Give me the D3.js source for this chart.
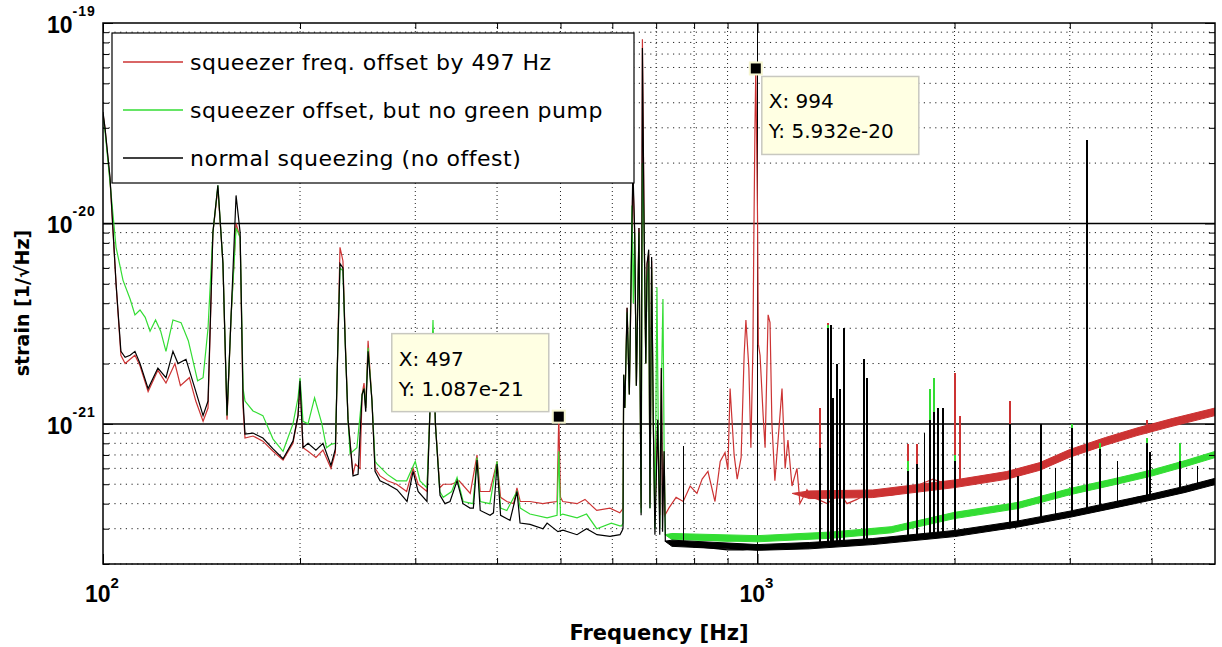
<!DOCTYPE html>
<html>
<head>
<meta charset="utf-8">
<script src="https://cdn.jsdelivr.net/npm/d3@7"></script>
<style>
  body { margin: 0; background: #fff; }
  svg { display: block; }
</style>
</head>
<body>
<div id="chart"></div>
<script>
// ---- data: [frequency Hz, strain 1/sqrt(Hz)] ----
const seriesNames = [
  "squeezer freq. offset by 497 Hz",
  "squeezer offset, but no green pump",
  "normal squeezing (no offest)"
];
const seriesColors = ["#cc3333", "#33dd33", "#000000"];

const redTrace = [
  [100, 3.5e-20], [100.7, 3.0e-20], [102.5, 1.65e-20], [104.7, 5.0e-21], [106.5, 2.2e-21],
  [108.1, 2.0e-21], [110, 2.1e-21], [111.9, 2.2e-21], [113.9, 1.95e-21], [117.2, 1.45e-21],
  [121.3, 1.85e-21], [124.8, 1.6e-21], [128.8, 2.0e-21], [131.3, 1.55e-21], [135.5, 1.7e-21],
  [138.6, 1.3e-21], [142.2, 1.03e-21], [144.7, 1.2e-21], [147.2, 9.0e-21], [149.8, 1.5e-20],
  [152.5, 6.3e-21], [154.7, 1.05e-21], [156.9, 3.4e-21], [159.7, 1.0e-20], [162, 8.5e-21],
  [163.7, 1.2e-21], [164.8, 8.5e-22], [169.5, 8.7e-22], [175.5, 8.2e-22], [181.9, 7.3e-22],
  [188.4, 6.6e-22], [195.1, 8.0e-22], [198.6, 1.1e-21], [200, 1.6e-21], [202.1, 7.6e-22],
  [205.7, 7.3e-22], [211.5, 6.8e-22], [216.8, 7.4e-22], [223, 6.0e-22], [226.5, 7.2e-22],
  [228.5, 2.6e-21], [230.2, 7.6e-21], [232.6, 6.5e-21], [234.5, 2.6e-21], [236.8, 1.05e-21],
  [241, 5.6e-22], [243, 6.3e-22], [247, 6.0e-22], [248.8, 1.4e-21], [250.5, 1.6e-21],
  [252, 1.2e-21], [254.1, 2.6e-21], [257.6, 1.3e-21], [260.4, 6.0e-22], [265, 5.5e-22],
  [272, 5.2e-22], [281, 5.0e-22], [291, 4.6e-22], [297.7, 6.0e-22], [303, 5.0e-22],
  [312.6, 4.6e-22], [316, 1.2e-21], [319.3, 2.9e-21], [322, 1.0e-21], [327, 4.8e-22],
  [331, 5.0e-22], [341, 5.0e-22], [350, 5.2e-22], [364, 4.5e-22], [372.8, 7.0e-22],
  [377, 4.6e-22], [390, 4.6e-22], [400, 6.5e-22], [405, 4.3e-22], [414, 4.1e-22],
  [424, 4.0e-22], [429, 4.8e-22], [434, 4.1e-22], [449, 4.1e-22], [470, 4.0e-22],
  [480, 4.05e-22], [494, 4.1e-22], [497, 1.087e-21], [500, 4.3e-22], [504, 4.1e-22],
  [530, 4.0e-22], [545, 4.2e-22], [568, 3.7e-22], [595, 3.8e-22], [616, 3.6e-22],
  [620, 3.7e-22], [623, 3.8e-22], [624.5, 1.76e-21], [627, 1.2e-21], [632, 3.8e-21],
  [637, 1.4e-21], [645, 1.7e-20], [649, 9.0e-21], [653, 1.55e-21], [659, 9.5e-21],
  [664, 3.8e-22], [667, 8.3e-20], [671, 9.8e-21], [675, 2.0e-21], [678, 6.3e-21],
  [682, 7.0e-21], [685, 4.0e-22], [689, 6.5e-21], [693, 1.05e-21], [697, 3.5e-22],
  [704, 1.05e-21], [709, 3.5e-22], [713, 1.9e-21], [716, 3.5e-22], [720, 7.3e-22],
  [722, 3.5e-22], [732, 3.8e-22], [751, 4.3e-22], [770, 4.1e-22], [789, 4.9e-22],
  [808, 4.5e-22], [823, 5.3e-22], [840, 5.8e-22], [861, 4.1e-22], [877, 6.5e-22],
  [892, 7.2e-22], [901, 5.9e-22], [908, 1.5e-21], [921, 7.0e-22], [931, 5.3e-22],
  [944, 6.8e-22], [954, 2.2e-21], [960, 3.3e-21], [970, 1.9e-21], [977, 7.6e-22],
  [984, 2.4e-21], [987, 8.0e-21], [991, 3.0e-20], [994, 5.932e-20], [997, 2.5e-20],
  [1000, 1.1e-20], [1003, 2.5e-21], [1009, 2.2e-21], [1020, 1.1e-21], [1027, 7.6e-22],
  [1038, 3.5e-21], [1045, 3.2e-21], [1052, 1.0e-21], [1063, 5.2e-22], [1075, 8.3e-22],
  [1090, 1.5e-21], [1102, 6.0e-22], [1113, 8.3e-22], [1129, 4.9e-22], [1149, 6.0e-22],
  [1161, 4.0e-22], [1190, 4.7e-22], [1211, 4.3e-22], [1237, 4.2e-22], [1277, 4.0e-22],
  [1337, 4.5e-22], [1370, 4.0e-22], [1419, 4.2e-22], [1470, 4.5e-22], [1539, 4.4e-22],
  [1594, 4.4e-22], [1651, 4.5e-22], [1710, 4.7e-22], [1771, 5.0e-22], [1854, 5.3e-22],
  [1948, 5.0e-22], [2089, 5.0e-22], [2188, 5.1e-22], [2290, 5.3e-22], [2405, 5.5e-22],
  [2660, 6.1e-22], [2980, 7.1e-22], [3340, 8.2e-22], [3800, 9.1e-22], [4280, 1.02e-21],
  [4800, 1.11e-21], [5000, 1.15e-21]
];

const greenTrace = [
  [100, 3.4e-20], [100.7, 2.9e-20], [102.5, 1.6e-20], [104.7, 7.6e-21], [107.3, 5.2e-21],
  [110, 4.2e-21], [111.9, 3.5e-21], [113.9, 3.7e-21], [116, 3.4e-21], [118, 2.9e-21],
  [120.3, 3.3e-21], [122.5, 2.9e-21], [124.8, 2.3e-21], [127.9, 3.3e-21], [131.6, 3.2e-21],
  [135, 2.6e-21], [139.5, 1.64e-21], [142.2, 1.7e-21], [144.7, 3.0e-21], [147.2, 9.0e-21],
  [149.8, 1.55e-20], [152.5, 6.3e-21], [154.7, 1.1e-21], [156.9, 3.4e-21], [159.7, 9.5e-21],
  [162, 8.5e-21], [163.7, 1.5e-21], [164.8, 1.3e-21], [169.5, 1.16e-21], [175.5, 1.1e-21],
  [181.9, 8.4e-22], [188.4, 7.3e-22], [195.1, 1.0e-21], [198.6, 1.35e-21], [200, 1.7e-21],
  [202.1, 1.03e-21], [205.7, 1.0e-21], [210.5, 1.35e-21], [216, 1.0e-21], [219.5, 7.6e-22],
  [223, 7.9e-22], [226.5, 8.0e-22], [228.5, 2.5e-21], [230.2, 6.0e-21], [232.6, 5.8e-21],
  [234.5, 2.5e-21], [236.8, 1.05e-21], [238.5, 7.1e-22], [244.3, 7.6e-22], [248.8, 1.4e-21],
  [250.5, 1.5e-21], [252, 1.2e-21], [254.1, 2.4e-21], [257.6, 1.3e-21], [260.4, 6.5e-22],
  [262.4, 6.3e-22], [272, 5.6e-22], [281, 5.2e-22], [291, 5.2e-22], [300, 6.5e-22],
  [305, 5.2e-22], [312.6, 4.8e-22], [316, 1.2e-21], [319.3, 3.3e-21], [322, 1.0e-21],
  [327, 4.6e-22], [331, 4.3e-22], [341, 4.6e-22], [347.5, 5.4e-22], [355, 4.1e-22],
  [367.6, 4.0e-22], [372.8, 6.8e-22], [377, 4.1e-22], [390, 4.0e-22], [400, 6.5e-22],
  [405, 3.8e-22], [414, 3.7e-22], [429, 4.6e-22], [434, 3.8e-22], [449, 3.55e-22],
  [477, 3.4e-22], [494, 3.5e-22], [497, 7.3e-22], [500, 3.5e-22], [504, 3.55e-22],
  [530, 3.4e-22], [548, 3.55e-22], [568, 3.0e-22], [598, 3.2e-22], [616, 3.1e-22],
  [620, 3.1e-22], [623, 3.2e-22], [624.5, 1.76e-21], [627, 1.2e-21], [632, 3.6e-21],
  [637, 1.4e-21], [643, 1.23e-20], [646, 4.0e-21], [649, 9.0e-21], [653, 1.55e-21],
  [659, 9.0e-21], [664, 3.6e-22], [667, 2.0e-20], [671, 9.5e-21], [675, 2.0e-21],
  [678, 5.0e-21], [682, 6.5e-21], [685, 3.8e-22], [689, 6.0e-21], [693, 1.05e-21],
  [697, 3.0e-22], [702, 4.8e-21], [705, 1.1e-21], [709, 3.0e-22], [713, 1.5e-21],
  [717, 4.2e-21], [720, 7.3e-22], [723, 2.8e-22], [735, 2.75e-22], [760, 2.7e-22],
  [800, 2.65e-22], [900, 2.6e-22], [1000, 2.65e-22], [1200, 2.7e-22], [1337, 2.8e-22],
  [1487, 2.9e-22], [1690, 3.0e-22], [1900, 3.4e-22], [2135, 3.6e-22], [2405, 3.8e-22],
  [2700, 4.1e-22], [2980, 4.6e-22], [3340, 5.0e-22], [3800, 5.6e-22], [4280, 6.1e-22],
  [4800, 6.9e-22], [5000, 7.1e-22]
];

const blackTrace = [
  [100, 3.6e-20], [100.7, 3.0e-20], [102.5, 1.7e-20], [104.7, 5.0e-21], [106.5, 2.3e-21],
  [108.1, 2.15e-21], [110, 2.2e-21], [111.9, 2.3e-21], [113.9, 2.0e-21], [117.2, 1.5e-21],
  [121.3, 1.9e-21], [124.8, 1.7e-21], [127.9, 2.3e-21], [130.2, 2.0e-21], [133.9, 2.1e-21],
  [138.2, 1.5e-21], [142.2, 1.1e-21], [144.7, 1.3e-21], [147.2, 9.0e-21], [149.8, 1.55e-20],
  [152.5, 6.3e-21], [154.7, 1.1e-21], [156.9, 3.4e-21], [159.7, 1.38e-20], [162, 9.0e-21],
  [163.7, 1.3e-21], [164.8, 8.9e-22], [169.5, 9.0e-22], [175.5, 8.5e-22], [181.9, 7.5e-22],
  [188.4, 6.7e-22], [195.1, 8.2e-22], [198.6, 1.1e-21], [200, 1.64e-21], [202.1, 7.6e-22],
  [205.7, 8.0e-22], [211.5, 7.4e-22], [216.8, 8.0e-22], [223, 6.2e-22], [226.5, 7.5e-22],
  [228.5, 2.5e-21], [230.2, 6.3e-21], [232.6, 6.0e-21], [234.5, 2.5e-21], [236.8, 1.05e-21],
  [241, 5.5e-22], [245.3, 5.6e-22], [248.8, 1.4e-21], [250.5, 1.5e-21], [252, 1.15e-21],
  [254.1, 2.3e-21], [257.6, 1.3e-21], [260.4, 5.8e-22], [265, 5.2e-22], [272, 5.0e-22],
  [281.3, 4.7e-22], [291.4, 4.1e-22], [297.7, 5.8e-22], [303, 4.6e-22], [312.6, 4.1e-22],
  [316, 1.2e-21], [319.3, 2.7e-21], [322, 1.0e-21], [327.3, 4.4e-22], [333, 4.0e-22],
  [339, 4.1e-22], [347.5, 5.2e-22], [354.8, 4.0e-22], [363.7, 3.8e-22], [368, 3.8e-22],
  [372.8, 6.6e-22], [377, 3.7e-22], [390.3, 3.5e-22], [395, 3.6e-22], [400, 6.3e-22],
  [405, 3.5e-22], [418.7, 3.3e-22], [429.1, 4.6e-22], [433.7, 3.2e-22], [449.2, 3.15e-22],
  [470.3, 3.0e-22], [477, 3.2e-22], [495.5, 2.9e-22], [504.4, 2.95e-22], [529.9, 2.8e-22],
  [548, 3.0e-22], [568.5, 2.8e-22], [595.1, 2.75e-22], [616.4, 2.8e-22], [620, 2.9e-22],
  [623, 3.0e-22], [624.5, 1.76e-21], [627, 1.2e-21], [632, 3.8e-21], [637, 1.4e-21],
  [645, 1.9e-20], [649, 9.4e-21], [653, 1.55e-21], [659, 9.5e-21], [664, 3.5e-22],
  [667, 7.5e-20], [671, 9.8e-21], [675, 2.0e-21], [678, 6.3e-21], [682, 7.4e-21],
  [685, 3.8e-22], [689, 6.8e-21], [693, 1.05e-21], [697, 2.8e-22], [704, 1.05e-21],
  [709, 2.8e-22], [713, 1.9e-21], [716, 2.9e-22], [720, 7.3e-22], [723, 2.6e-22],
  [735, 2.55e-22], [760, 2.5e-22], [800, 2.45e-22], [850, 2.4e-22], [900, 2.35e-22],
  [950, 2.35e-22], [1000, 2.4e-22], [1100, 2.4e-22], [1200, 2.45e-22], [1400, 2.5e-22],
  [1540, 2.6e-22], [1700, 2.65e-22], [1900, 2.8e-22], [2135, 2.95e-22], [2400, 3.15e-22],
  [2700, 3.3e-22], [3000, 3.55e-22], [3340, 3.8e-22], [3800, 4.3e-22], [4280, 4.6e-22],
  [4800, 5.0e-22], [5000, 5.2e-22]
];

// width of the noisy band at high frequency: [f, low edge, high edge]
const redBand = [
  [1130, 4.5e-22, 4.5e-22], [1200, 4.24e-22, 4.63e-22], [1500, 4.29e-22, 4.68e-22],
  [2000, 4.81e-22, 5.25e-22], [2400, 5.29e-22, 5.78e-22], [2700, 5.87e-22, 6.41e-22],
  [3000, 6.82e-22, 7.45e-22], [3400, 7.83e-22, 8.55e-22], [3800, 8.74e-22, 9.54e-22],
  [4300, 9.73e-22, 1.063e-21], [5000, 1.10e-21, 1.20e-21]
];
const greenBand = [
  [722, 2.8e-22, 2.8e-22], [740, 2.65e-22, 2.84e-22], [1000, 2.58e-22, 2.77e-22],
  [1300, 2.69e-22, 2.89e-22], [1600, 2.86e-22, 3.07e-22], [2000, 3.37e-22, 3.62e-22],
  [2500, 3.78e-22, 4.06e-22], [3000, 4.43e-22, 4.76e-22], [3500, 4.96e-22, 5.32e-22],
  [4000, 5.49e-22, 5.89e-22], [4500, 6.12e-22, 6.56e-22], [5000, 6.79e-22, 7.29e-22]
];
const blackBand = [
  [722, 2.6e-22, 2.6e-22], [740, 2.45e-22, 2.63e-22], [1000, 2.34e-22, 2.50e-22],
  [1200, 2.38e-22, 2.56e-22], [1500, 2.50e-22, 2.68e-22], [2000, 2.74e-22, 2.94e-22],
  [2500, 3.06e-22, 3.28e-22], [3000, 3.42e-22, 3.67e-22], [3500, 3.80e-22, 4.08e-22],
  [4000, 4.17e-22, 4.47e-22], [4500, 4.55e-22, 4.89e-22], [5000, 4.98e-22, 5.35e-22]
];

// narrow lines: [f, base, peak]
const redSpikes = [
  [1246, 4.2e-22, 1.2e-21], [1281, 4.0e-22, 3.2e-21], [1356, 4.2e-22, 1.4e-21],
  [1698, 4.7e-22, 7.9e-22], [1753, 4.9e-22, 7.9e-22], [1835, 5.2e-22, 1.5e-21],
  [2003, 5.0e-22, 1.8e-21], [2039, 5.0e-22, 1.1e-21], [2431, 5.6e-22, 1.3e-21],
  [3187, 7.7e-22, 2.6e-20], [3936, 9.3e-22, 1.05e-21]
];
const greenSpikes = [
  [770, 2.7e-22, 7.7e-22], [1246, 2.7e-22, 7.0e-22], [1281, 2.75e-22, 3.1e-21],
  [1295, 2.75e-22, 2.7e-21], [1356, 2.8e-22, 3.0e-21], [1454, 2.85e-22, 2.1e-21],
  [1698, 3.0e-22, 6.5e-22], [1835, 3.3e-22, 1.5e-21], [1861, 3.35e-22, 1.7e-21],
  [1920, 3.4e-22, 9.0e-22], [2003, 3.45e-22, 7.0e-22], [2431, 3.8e-22, 9.0e-22],
  [2712, 4.1e-22, 8.5e-22], [3024, 4.6e-22, 1.0e-21], [3187, 4.8e-22, 4.0e-21],
  [3337, 5.0e-22, 8.0e-22], [3936, 5.7e-22, 8.5e-22], [4420, 6.3e-22, 8.0e-22]
];
const blackSpikes = [
  [770, 2.5e-22, 7.8e-22], [1246, 2.45e-22, 7.6e-22], [1281, 2.45e-22, 3.0e-21],
  [1295, 2.45e-22, 3.1e-21], [1304, 2.45e-22, 1.35e-21], [1323, 2.45e-22, 2.0e-21],
  [1337, 2.45e-22, 1.5e-21], [1356, 2.45e-22, 3.0e-21], [1454, 2.55e-22, 2.1e-21],
  [1470, 2.55e-22, 1.7e-21], [1698, 2.65e-22, 5.8e-22], [1753, 2.7e-22, 6.3e-22],
  [1800, 2.7e-22, 9.0e-22], [1835, 2.75e-22, 1.05e-21], [1861, 2.75e-22, 1.15e-21],
  [1887, 2.8e-22, 1.2e-21], [1920, 2.8e-22, 1.2e-21], [2003, 2.85e-22, 6.5e-22],
  [2431, 3.15e-22, 1.0e-21], [2500, 3.2e-22, 5.5e-22], [2712, 3.3e-22, 1.0e-21],
  [2850, 3.45e-22, 6.0e-22], [3024, 3.55e-22, 9.5e-22], [3187, 3.65e-22, 2.6e-20],
  [3337, 3.8e-22, 7.5e-22], [3550, 4.0e-22, 6.5e-22], [3936, 4.35e-22, 8.0e-22],
  [3980, 4.4e-22, 7.2e-22], [4420, 4.75e-22, 6.5e-22], [4700, 4.95e-22, 6.2e-22]
];

// data tips
const tipFreqs = [994, 497];
const tipValues = [5.932e-20, 1.087e-21];

// axis ticks
const xMajor = [100, 1000];
const xMinor = [200, 300, 400, 500, 600, 700, 800, 900, 2000, 3000, 4000];
const yMajor = [1e-19, 1e-20, 1e-21];
const yMinor = [2e-22, 3e-22, 4e-22, 5e-22, 6e-22, 7e-22, 8e-22, 9e-22,
  2e-21, 3e-21, 4e-21, 5e-21, 6e-21, 7e-21, 8e-21, 9e-21,
  2e-20, 3e-20, 4e-20, 5e-20, 6e-20, 7e-20, 8e-20, 9e-20];
const xTickLabels = [["10", "2"], ["10", "3"]];
const yTickLabels = [["10", "-19"], ["10", "-20"], ["10", "-21"]];

// ---- layout ----
const W = 1222, H = 647;
const margin = { top: 23, right: 7, bottom: 83, left: 103 };
const x = d3.scaleLog().domain([100, 5000]).range([margin.left, W - margin.right]);
const y = d3.scaleLog().domain([2e-22, 1e-19]).range([H - margin.bottom, margin.top]);

const svg = d3.select("#chart").append("svg")
  .attr("width", W)
  .attr("height", H)
  .style("font-family", "'Liberation Sans', Arial, sans-serif");

svg.append("defs").append("clipPath").attr("id", "plotclip")
  .append("rect")
  .attr("x", margin.left).attr("y", margin.top)
  .attr("width", W - margin.left - margin.right)
  .attr("height", H - margin.top - margin.bottom);

// grid
const grid = svg.append("g");
grid.selectAll(".gx").data(xMinor).enter().append("line")
  .attr("x1", d => x(d)).attr("x2", d => x(d))
  .attr("y1", y.range()[1]).attr("y2", y.range()[0])
  .attr("stroke", "#222").attr("stroke-width", 1).attr("stroke-dasharray", "1,3");
grid.selectAll(".gy").data(yMinor).enter().append("line")
  .attr("x1", x.range()[0]).attr("x2", x.range()[1])
  .attr("y1", d => y(d)).attr("y2", d => y(d))
  .attr("stroke", "#222").attr("stroke-width", 1).attr("stroke-dasharray", "1.2,4.5");
grid.selectAll(".gxm").data(xMajor.slice(1)).enter().append("line")
  .attr("x1", d => x(d)).attr("x2", d => x(d))
  .attr("y1", y.range()[1]).attr("y2", y.range()[0])
  .attr("stroke", "#000").attr("stroke-width", 1);
grid.selectAll(".gym").data(yMajor.slice(1)).enter().append("line")
  .attr("x1", x.range()[0]).attr("x2", x.range()[1])
  .attr("y1", d => y(d)).attr("y2", d => y(d))
  .attr("stroke", "#000").attr("stroke-width", 1.5);

// data
const plot = svg.append("g").attr("clip-path", "url(#plotclip)");
const line = d3.line().x(d => x(d[0])).y(d => y(d[1]));
const band = d3.area().x(d => x(d[0])).y0(d => y(d[1])).y1(d => y(d[2]));

const series = [
  { trace: redTrace, band: redBand, spikes: redSpikes },
  { trace: greenTrace, band: greenBand, spikes: greenSpikes },
  { trace: blackTrace, band: blackBand, spikes: blackSpikes }
];

series.forEach((s, i) => {
  const c = seriesColors[i];
  plot.append("path").datum(s.band)
    .attr("d", band).attr("fill", c).attr("stroke", c).attr("stroke-width", 1);
  plot.append("path").datum(s.trace)
    .attr("d", line).attr("fill", "none").attr("stroke", c).attr("stroke-width", 1.2);
  plot.selectAll(null).data(s.spikes).enter().append("line")
    .attr("x1", d => x(d[0])).attr("x2", d => x(d[0]))
    .attr("y1", d => y(d[1])).attr("y2", d => y(d[2]))
    .attr("stroke", c).attr("stroke-width", 1.3)
    .attr("shape-rendering", "crispEdges");
});

// axes (ticks point inward)
const axes = [
  [() => d3.axisBottom(x), `translate(0,${y.range()[0]})`, xMajor, xMinor],
  [() => d3.axisTop(x), `translate(0,${y.range()[1]})`, xMajor, xMinor],
  [() => d3.axisLeft(y), `translate(${x.range()[0]},0)`, yMajor, yMinor],
  [() => d3.axisRight(y), `translate(${x.range()[1]},0)`, yMajor, yMinor]
];
axes.forEach(([make, tr, major, minor]) => {
  [[major, -10], [minor, -6]].forEach(([vals, size]) => {
    const g = svg.append("g").attr("transform", tr)
      .call(make().tickValues(vals).tickSize(size).tickFormat(""));
    g.select(".domain").remove();
    g.selectAll("line").attr("stroke", "#000");
  });
});

svg.append("rect")
  .attr("x", x.range()[0]).attr("y", y.range()[1])
  .attr("width", x.range()[1] - x.range()[0])
  .attr("height", y.range()[0] - y.range()[1])
  .attr("fill", "none").attr("stroke", "#000").attr("stroke-width", 1.5);

// tick labels
yMajor.forEach((v, i) => {
  const t = svg.append("text")
    .attr("x", 47).attr("y", y(v) + 10)
    .attr("font-size", 23).attr("font-weight", "bold");
  t.append("tspan").text(yTickLabels[i][0]);
  t.append("tspan").attr("dy", -17).attr("font-size", 14).attr("letter-spacing", 1)
    .text(yTickLabels[i][1]);
});
xMajor.forEach((v, i) => {
  const t = svg.append("text")
    .attr("x", x(v) - 18).attr("y", y.range()[0] + 38)
    .attr("font-size", 23).attr("font-weight", "bold");
  t.append("tspan").text(xTickLabels[i][0]);
  t.append("tspan").attr("dy", -14).attr("font-size", 15).text(xTickLabels[i][1]);
});

// axis titles
svg.append("text")
  .attr("x", (x.range()[0] + x.range()[1]) / 2).attr("y", 640)
  .attr("text-anchor", "middle")
  .style("font-family", "'DejaVu Sans', sans-serif")
  .attr("font-size", 21).attr("font-weight", "bold")
  .text("Frequency [Hz]");
svg.append("text")
  .attr("transform", `translate(29,303) rotate(-90)`)
  .attr("text-anchor", "middle")
  .style("font-family", "'DejaVu Sans', sans-serif")
  .attr("font-size", 19).attr("font-weight", "bold")
  .text("strain [1/\u221AHz]");

// legend
const legend = svg.append("g").style("font-family", "'DejaVu Sans', sans-serif");
legend.append("rect")
  .attr("x", 112).attr("y", 33).attr("width", 522).attr("height", 150)
  .attr("fill", "#fff").attr("stroke", "#000").attr("stroke-width", 1.2);
seriesNames.forEach((name, i) => {
  const ly = 62 + i * 48;
  legend.append("line")
    .attr("x1", 123).attr("x2", 183).attr("y1", ly).attr("y2", ly)
    .attr("stroke", seriesColors[i]).attr("stroke-width", 1.5);
  legend.append("text")
    .attr("x", 190).attr("y", ly + 8)
    .attr("font-size", 22).attr("letter-spacing", 0.5)
    .text(name);
});

// data tips
const tipOffsets = [[6, 8], [-167, -83]];
tipFreqs.forEach((f, i) => {
  const px = x(f), py = y(tipValues[i]);
  const bx = px + tipOffsets[i][0], by = py + tipOffsets[i][1];
  const g = svg.append("g").style("font-family", "'DejaVu Sans', sans-serif");
  g.append("rect")
    .attr("x", bx).attr("y", by).attr("width", 157).attr("height", 78)
    .attr("fill", "#ffffe3").attr("stroke", "#c8c8c0").attr("stroke-width", 1.5);
  g.append("text").attr("x", bx + 7).attr("y", by + 32).attr("font-size", 20)
    .text(`X: ${f}`);
  g.append("text").attr("x", bx + 7).attr("y", by + 62).attr("font-size", 20)
    .text(`Y: ${tipValues[i].toExponential(3)}`);
  g.append("rect")
    .attr("x", px - 6).attr("y", py - 6).attr("width", 12).attr("height", 12)
    .attr("fill", "#000").attr("stroke", "#f6f6d0").attr("stroke-width", 2);
});
</script>
</body>
</html>
